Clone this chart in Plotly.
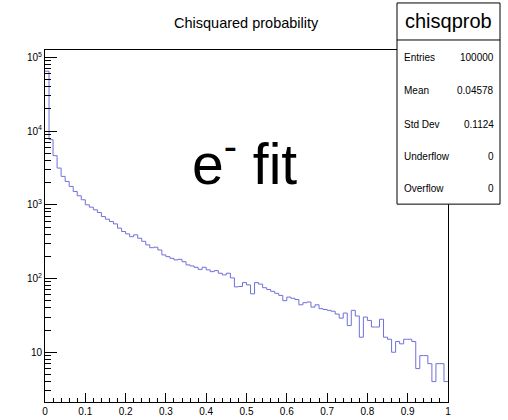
import numpy as np
import plotly.graph_objects as go

# ---- data ----
x_min, x_max, n_bins = 0.0, 1.0, 100
counts = [
    65000, 7650, 4640, 3150, 2430, 2075, 1775, 1517, 1325, 1170,
    1000, 930, 855, 786, 693, 638, 593, 551, 482, 434,
    403, 370, 391, 352, 320, 286, 262, 266, 244, 209,
    198, 188, 179, 182, 169, 153, 148, 142, 133, 142,
    131, 124, 128, 118, 112, 118, 102, 77, 78, 88,
    82, 62, 88, 84, 75, 71, 67, 63, 59, 50,
    56, 54, 52, 44, 47, 48, 41, 44, 39, 38,
    37, 36, 33, 29, 34, 23, 37, 31, 16, 30,
    27, 22, 22, 28, 16, 15, 10, 14, 13, 15,
    15, 14, 6, 9, 9, 7, 4, 7, 7, 4,
]
title = "Chisquared probability"
stats_name = "chisqprob"
stats_labels = ["Entries", "Mean", "Std Dev", "Underflow", "Overflow"]
stats_values = ["100000", "0.04578", "0.1124", "0", "0"]
x_tick_vals = [0, 0.1, 0.2, 0.3, 0.4, 0.5, 0.6, 0.7, 0.8, 0.9, 1]
x_tick_text = ["0", "0.1", "0.2", "0.3", "0.4", "0.5", "0.6", "0.7", "0.8", "0.9", "1"]
y_tick_vals = [10, 100, 1000, 10000, 100000]
y_tick_text = ["10", "10<sup>2</sup>", "10<sup>3</sup>", "10<sup>4</sup>", "10<sup>5</sup>"]
y_minor_vals = [m * 10 ** k for k in range(0, 5) for m in range(2, 10)]
label_text = "e<sup>-</sup> fit"

# ---- layout geometry (pixels) ----
W, H = 508, 420
L, R, T, B = 45, 448, 50, 401.7
y_log_range = [0.325, 5.10]
FONT = "Liberation Sans, Arial, sans-serif"


def px(xp):
    return (xp - L) / (R - L)


def py(yp):
    return (B - yp) / (B - T)


edges = np.linspace(x_min, x_max, n_bins + 1)
step_y = list(counts) + [counts[-1]]

fig = go.Figure()
fig.add_trace(go.Scatter(
    x=edges, y=step_y, mode="lines", line=dict(shape="hv", color="#7070d8", width=1),
    hoverinfo="skip", showlegend=False,
))
# invisible trace for minor-tick axis
fig.add_trace(go.Scatter(x=[0.5], y=[100], yaxis="y2", mode="markers",
                         marker=dict(opacity=0), showlegend=False, hoverinfo="skip"))

fig.update_layout(
    width=W, height=H,
    margin=dict(l=L, r=W - R, t=T, b=H - B, pad=0, autoexpand=False),
    paper_bgcolor="white", plot_bgcolor="white",
    font=dict(family=FONT, size=10, color="black"),
    xaxis=dict(
        range=[x_min, x_max], showgrid=False, zeroline=False,
        showline=True, linecolor="black", linewidth=1, mirror=True,
        ticks="inside", ticklen=9, tickwidth=1, tickcolor="black",
        tickvals=x_tick_vals, ticktext=x_tick_text,
        minor=dict(ticks="inside", ticklen=4, dtick=0.02, tickcolor="black", showgrid=False),
        tickfont=dict(size=10), automargin=False,
    ),
    yaxis=dict(
        type="log", range=y_log_range, showgrid=False, zeroline=False,
        showline=True, linecolor="black", linewidth=1, mirror=True,
        ticks="inside", ticklen=12, tickwidth=1, tickcolor="black",
        tickvals=y_tick_vals, ticktext=y_tick_text, tickfont=dict(size=10),
        automargin=False,
    ),
    yaxis2=dict(
        type="log", range=y_log_range, overlaying="y", side="left",
        showgrid=False, zeroline=False, showline=False,
        ticks="inside", ticklen=6, tickwidth=1, tickcolor="black",
        tickvals=y_minor_vals, showticklabels=False, automargin=False,
    ),
)

# title
fig.add_annotation(text=title, xref="paper", yref="paper", x=px(247), y=py(23),
                   showarrow=False, font=dict(size=14.5, family=FONT), xanchor="center", yanchor="middle")

# stats box
fig.add_shape(type="rect", xref="paper", yref="paper",
              x0=px(397), x1=px(500), y0=py(204), y1=py(3),
              line=dict(color="black", width=1), fillcolor="white", layer="above")
fig.add_shape(type="line", xref="paper", yref="paper",
              x0=px(397), x1=px(500), y0=py(40), y1=py(40),
              line=dict(color="black", width=1), layer="above")
fig.add_annotation(text=stats_name, xref="paper", yref="paper", x=px(448.5), y=py(21),
                   showarrow=False, font=dict(size=20, family=FONT), xanchor="center", yanchor="middle")
row_y = [57, 90, 124, 156, 188]
for lab, val, yy in zip(stats_labels, stats_values, row_y):
    fig.add_annotation(text=lab, xref="paper", yref="paper", x=px(402), y=py(yy),
                       showarrow=False, font=dict(size=10, family=FONT), xanchor="left", yanchor="middle")
    fig.add_annotation(text=val, xref="paper", yref="paper", x=px(496), y=py(yy),
                       showarrow=False, font=dict(size=10, family=FONT), xanchor="right", yanchor="middle")

# big label
fig.add_annotation(text=label_text, xref="paper", yref="paper", x=px(244), y=py(160),
                   showarrow=False, font=dict(size=57, family=FONT),
                   xanchor="center", yanchor="middle")

fig.write_html("out.html", config={"displayModeBar": False},
               post_script="document.body.style.margin='0';")
